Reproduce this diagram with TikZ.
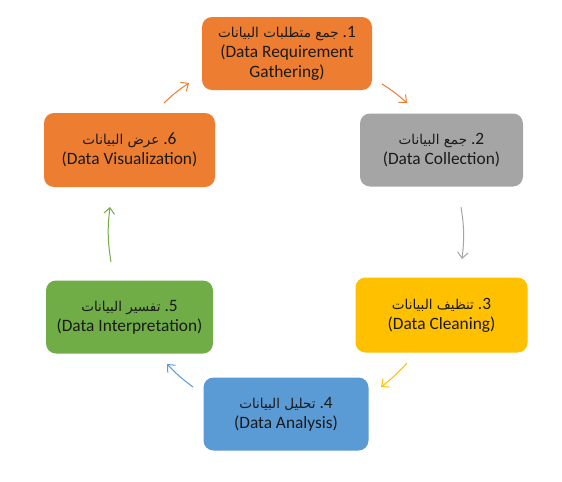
\documentclass[tikz,border=0pt]{standalone}
\usepackage{fontspec}
\setmainfont{Carlito}
\newfontfamily\arabicfont[Script=Arabic,Scale=0.78]{DejaVu Sans}
\TeXXeTstate=1
\usetikzlibrary{arrows.meta}
\definecolor{cOrange}{HTML}{ED7D31}
\definecolor{cGray}{HTML}{A5A5A5}
\definecolor{cYellow}{HTML}{FFC000}
\definecolor{cBlue}{HTML}{5B9BD5}
\definecolor{cGreen}{HTML}{70AD47}
\definecolor{cText}{HTML}{1A1A1A}
\tikzset{
  stagebox/.style={rectangle, rounded corners=7.5pt, draw=none, align=center,
    text=cText, font=\fontsize{13}{15}\selectfont, inner sep=2pt},
  flowarrow/.style={line width=0.75pt, -{Straight Barb[length=4.5pt,width=8pt]}}
}
\newcommand{\artitle}[2]{{\arabicfont\beginR #1\endR} #2}
\begin{document}
\begin{tikzpicture}[x=0.75pt,y=-0.75pt]
\useasboundingbox[fill=white] (0,0) rectangle (562,482);
\node[stagebox, fill=cOrange, minimum width=127.5pt, minimum height=54.75pt] (n1) at (287,53.5)
  {\artitle{جمع متطلبات البيانات}{.1}\\(Data Requirement\\Gathering)};
\node[stagebox, fill=cGray, minimum width=122.25pt, minimum height=54.75pt] (n2) at (441.5,150)
  {\artitle{جمع البيانات}{.2}\\(Data Collection)};
\node[stagebox, fill=cYellow, minimum width=129pt, minimum height=56.25pt] (n3) at (441.5,315)
  {\artitle{تنظيف البيانات}{.3}\\(Data Cleaning)};
\node[stagebox, fill=cBlue, minimum width=123.75pt, minimum height=54.75pt] (n4) at (286,414)
  {\artitle{تحليل البيانات}{.4}\\(Data Analysis)};
\node[stagebox, fill=cGreen, minimum width=125.25pt, minimum height=54.75pt] (n5) at (129.5,317)
  {\artitle{تفسير البيانات}{.5}\\(Data Interpretation)};
\node[stagebox, fill=cOrange, minimum width=128.25pt, minimum height=55.5pt] (n6) at (129.5,150)
  {\artitle{عرض البيانات}{.6}\\(Data Visualization)};
% arrow end points on the cycle circle
\coordinate (a1s) at (382,84);  \coordinate (a1e) at (407,103);
\coordinate (a2s) at (461,207); \coordinate (a2e) at (462,259);
\coordinate (a3s) at (407,363); \coordinate (a3e) at (381,387);
\coordinate (a4s) at (193,387); \coordinate (a4e) at (167,364);
\coordinate (a5s) at (111,262); \coordinate (a5e) at (110,207);
\coordinate (a6s) at (164,103); \coordinate (a6e) at (189,83);
\draw[flowarrow, cOrange] (a1s) to[bend left=5] (a1e);
\draw[flowarrow, cGray]   (a2s) to[bend left=8] (a2e);
\draw[flowarrow, cYellow] (a3s) to[bend left=5] (a3e);
\draw[flowarrow, cBlue]   (a4s) to[bend left=5] (a4e);
\draw[flowarrow, cGreen]  (a5s) to[bend left=8] (a5e);
\draw[flowarrow, cOrange] (a6s) to[bend left=5] (a6e);
\end{tikzpicture}
\end{document}
